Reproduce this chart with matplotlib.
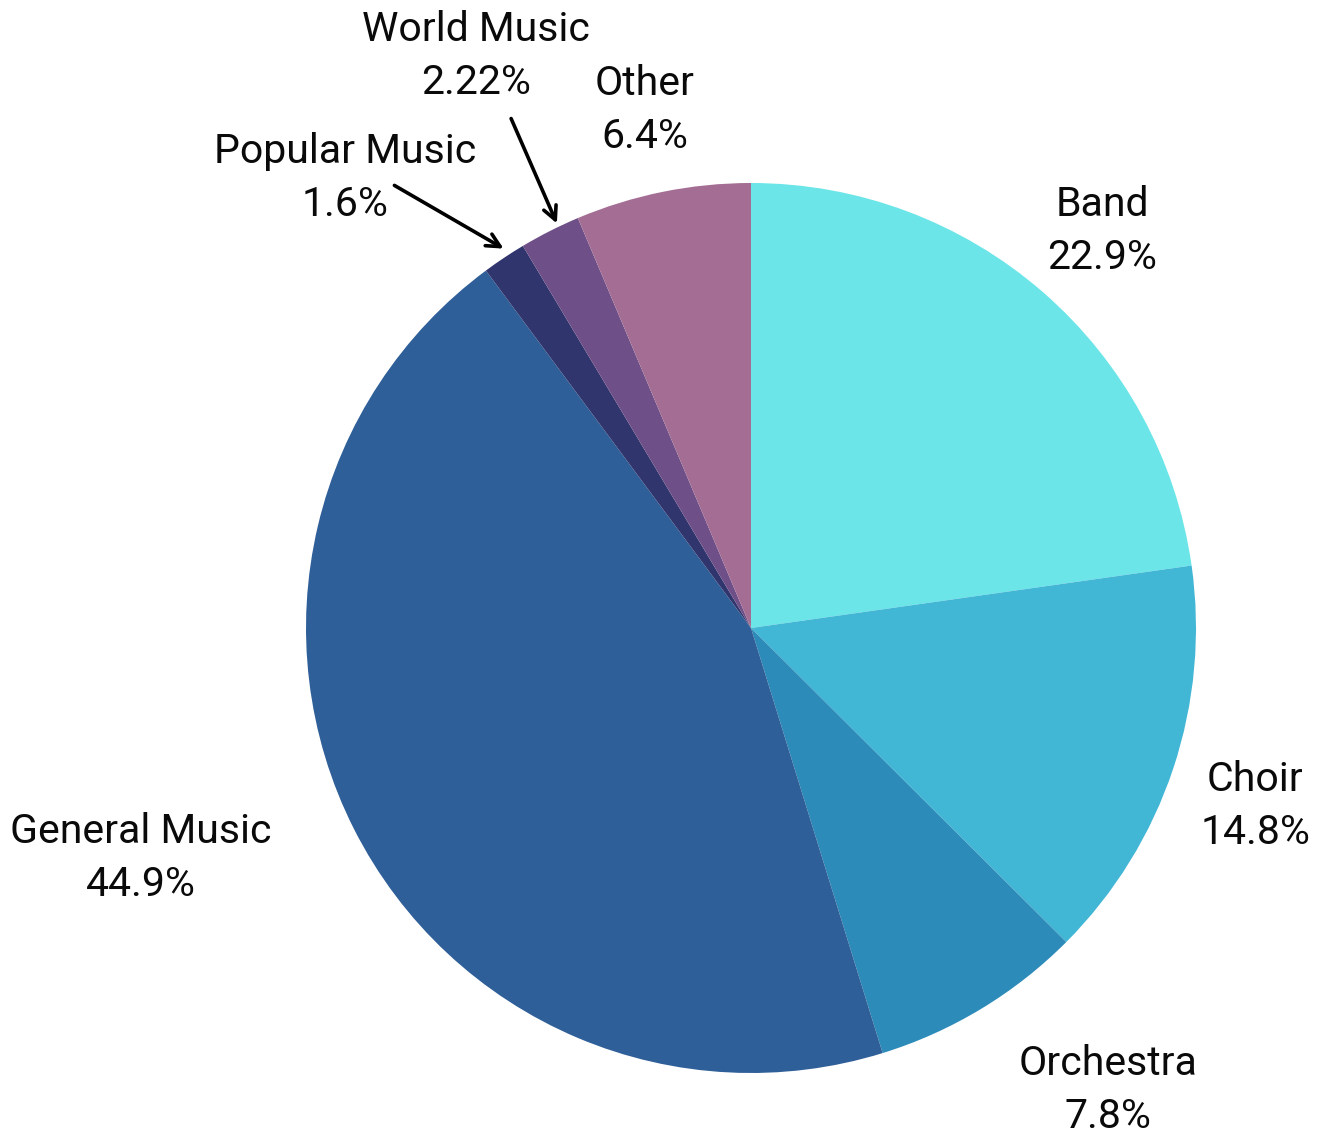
import matplotlib.pyplot as plt

plt.rcParams['font.family'] = ['Roboto', 'DejaVu Sans']

# Share of music teachers by area
categories = ["Band", "Choir", "Orchestra", "General Music",
              "Popular Music", "World Music", "Other"]
shares = [22.9, 14.8, 7.8, 44.9, 1.6, 2.22, 6.4]
share_labels = ["22.9%", "14.8%", "7.8%", "44.9%", "1.6%", "2.22%", "6.4%"]
colors = ["#6be5e8", "#42b6d5", "#2d8bba", "#2f5f98",
          "#30356d", "#6f4f87", "#a46e94"]

W, H = 1323, 1135
fig = plt.figure(figsize=(W / 100, H / 100), dpi=100)
ax = fig.add_axes([0, 0, 1, 1])

cx, cy, r = 751, -628, 445
ax.pie(shares, colors=colors, startangle=90, counterclock=False,
       center=(cx, cy), radius=r, frame=True,
       wedgeprops=dict(linewidth=0))
ax.set_xlim(0, W)
ax.set_ylim(-H, 0)
ax.set_aspect('equal')
ax.axis('off')

# label positions (pixel coords, centre of the two-line block)
label_pos = {
    "Band": (1102, 231),
    "Choir": (1255, 806),
    "Orchestra": (1108, 1090),
    "General Music": (141, 858),
    "Popular Music": (345, 178),
    "World Music": (476, 56),
    "Other": (645, 110),
}
for name, lab in zip(categories, share_labels):
    x, y = label_pos[name]
    ax.text(x, -y, f"{name}\n{lab}", ha='center', va='center',
            multialignment='center', fontsize=29.5, linespacing=1.42,
            color='#0a0a0a')

# arrows for the two thin slices
arrow_kw = dict(arrowstyle='->', color='black', lw=2.6, mutation_scale=24)
ax.annotate("", xy=(506, -250), xytext=(392, -184), arrowprops=arrow_kw)
ax.annotate("", xy=(558, -226), xytext=(510, -116), arrowprops=arrow_kw)

fig.savefig("out.png", dpi=100)
